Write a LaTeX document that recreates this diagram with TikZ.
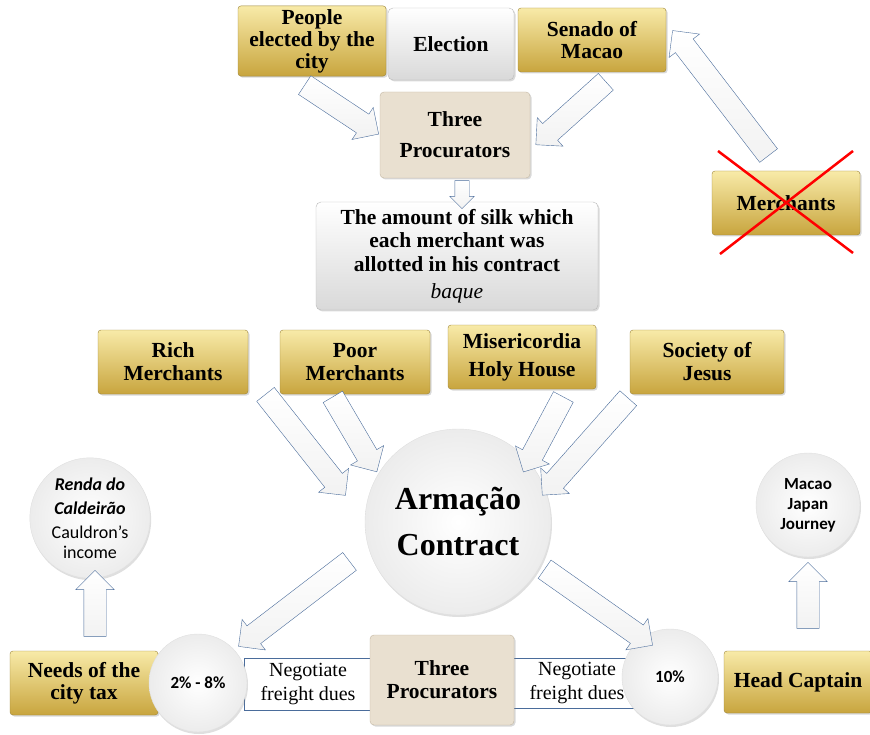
\documentclass[tikz,border=0pt]{standalone}
\usepackage{fontspec}
\setmainfont{Liberation Serif}
\newfontfamily\calfont{Carlito}
\usetikzlibrary{calc,positioning,shapes.arrows,shadows}

\definecolor{goldlight}{HTML}{F8EAA8}
\definecolor{golddark}{HTML}{C8A53E}
\definecolor{goldline}{HTML}{9C8438}
\definecolor{arrowblue}{HTML}{4A6C9B}
\definecolor{sand}{HTML}{E9E0D0}
\definecolor{sandline}{HTML}{C3B7A2}

\tikzset{
  goldbox/.style={draw=goldline, rounded corners=3pt, top color=goldlight, bottom color=golddark,
    minimum width=148pt, minimum height=64pt, inner xsep=2pt, align=center,
    font=\fontsize{21.5}{22}\selectfont\bfseries,
    drop shadow={opacity=0.3, shadow xshift=1.5pt, shadow yshift=-1.5pt}},
  greybox/.style={draw=gray!55, rounded corners=5pt, top color=white, bottom color=gray!30,
    align=center, font=\fontsize{21.5}{22}\selectfont\bfseries,
    drop shadow={opacity=0.3, shadow xshift=1.5pt, shadow yshift=-1.5pt}},
  sandbox/.style={draw=sandline, rounded corners=4pt, fill=sand, align=center,
    font=\fontsize{21.5}{23}\selectfont\bfseries,
    drop shadow={opacity=0.3, shadow xshift=1.5pt, shadow yshift=-1.5pt}},
  ball/.style={circle, draw=gray!25, inner color=white, outer color=gray!15, align=center,
    font=\calfont\fontsize{17}{20}\selectfont\bfseries,
    drop shadow={opacity=0.25, shadow xshift=1pt, shadow yshift=-2pt}},
  band/.style={draw=arrowblue, fill=white, align=center, inner xsep=1pt,
    font=\fontsize{20}{24}\selectfont},
  fat arrow/.style={single arrow, draw=arrowblue, top color=white, bottom color=gray!10,
    inner xsep=0pt, inner ysep=11pt, single arrow head extend=8pt, single arrow head indent=0pt},
  thin arrow/.style={fat arrow, inner ysep=7pt, single arrow head extend=5pt}
}

\newcommand{\blockarrow}[3][fat arrow]{%
  \path let \p1=($(#3)-(#2)$), \n1={atan2(\y1,\x1)}, \n2={veclen(\x1,\y1)} in
    node[#1, rotate=\n1, minimum height=\n2] at ($(#2)!0.5!(#3)$) {};}

\begin{document}
\begin{tikzpicture}[x=1pt, y=-1pt]
  \useasboundingbox (0,0) rectangle (870,735);

  % top part
  \node[goldbox] (people) at (312,41) {People\\elected by the\\city};
  \node[greybox, minimum width=126pt, minimum height=72pt] (election) at (451,44) {Election};
  \node[goldbox] (senado) at (592,40) {Senado of\\Macao};
  \node[sandbox, minimum width=150pt, minimum height=86pt, font=\fontsize{21.5}{31}\selectfont\bfseries]
    (proctop) at (455,135) {Three\\Procurators};
  \node[greybox, minimum width=282pt, minimum height=108pt, font=\fontsize{21.5}{23.5}\selectfont\bfseries]
    (silk) at (457,256) {The amount of silk which\\each merchant was\\allotted in his contract\\[4pt]\normalfont\itshape baque};
  \node[goldbox] (merchants) at (786,203) {Merchants};
  \draw[red, line width=2.5pt] ($(merchants.center)+(-68,-52)$) -- ($(merchants.center)+(67,50)$);
  \draw[red, line width=2.5pt] ($(merchants.center)+(67,-52)$) -- ($(merchants.center)+(-66,51)$);

  % the four parties
  \node[goldbox, minimum width=150pt, font=\fontsize{21.5}{23}\selectfont\bfseries] (rich) at (173,362) {Rich\\Merchants};
  \node[goldbox, minimum width=150pt, font=\fontsize{21.5}{23}\selectfont\bfseries] (poor) at (355,362) {Poor\\Merchants};
  \node[goldbox, minimum width=148pt, font=\fontsize{21.5}{28}\selectfont\bfseries] (miseri) at (522,357) {Misericordia\\Holy House};
  \node[goldbox, minimum width=154pt, font=\fontsize{21.5}{23}\selectfont\bfseries] (society) at (707,362) {Society of\\Jesus};

  % bottom part
  \node[band, minimum width=128pt, minimum height=52pt] (negl) at (308,684) {Negotiate\\freight dues};
  \node[band, minimum width=128pt, minimum height=50pt] (negr) at (577,683) {Negotiate\\freight dues};
  \node[sandbox, minimum width=144pt, minimum height=90pt] (procbot) at (442,680) {Three\\Procurators};
  \node[goldbox] (needs) at (84,683) {Needs of the\\city tax};
  \node[goldbox, minimum height=62pt] (captain) at (798,682) {Head Captain};
  \node[ball, minimum size=98pt] (low) at (198,683) {2\% - 8\%};
  \node[ball, minimum size=96pt] (high) at (670,677) {10\%};
  \node[ball, minimum size=186pt, font=\fontsize{32}{46}\selectfont\bfseries] (armacao) at (458,522) {Armação\\Contract};
  \node[ball, minimum size=104pt, font=\calfont\fontsize{18}{24}\selectfont] (renda) at (90,518)
    {\bfseries\itshape Renda do\\\bfseries\itshape Caldeirão\\Cauldron’s\\[-4pt]income};
  \node[ball, minimum size=104pt, font=\calfont\fontsize{17}{20}\selectfont\bfseries] (journey) at (808,505) {Macao\\Japan\\Journey};

  % arrows
  \coordinate (a1) at (300,82);  \coordinate (b1) at (374,131);
  \coordinate (a2) at (610,78);  \coordinate (b2) at (540,141);
  \coordinate (a3) at (772,160); \coordinate (b3) at (676,35);
  \coordinate (a4) at (462,177); \coordinate (b4) at (462,205);
  \coordinate (a5) at (262,390); \coordinate (b5) at (342,491);
  \coordinate (a6) at (330,392); \coordinate (b6) at (374,467);
  \coordinate (a7) at (566,392); \coordinate (b7) at (526,467);
  \coordinate (a8) at (632,394); \coordinate (b8) at (546,491);
  \coordinate (a9) at (354,558); \coordinate (b9) at (243,643);
  \coordinate (a10) at (540,566); \coordinate (b10) at (648,642);
  \coordinate (a11) at (95,642); \coordinate (b11) at (95,576);
  \coordinate (a12) at (808,634); \coordinate (b12) at (808,568);

  \blockarrow{a1}{b1}
  \blockarrow{a2}{b2}
  \blockarrow{a3}{b3}
  \blockarrow[thin arrow]{a4}{b4}
  \foreach \i in {5,...,12} {\blockarrow{a\i}{b\i}}
\end{tikzpicture}
\end{document}
